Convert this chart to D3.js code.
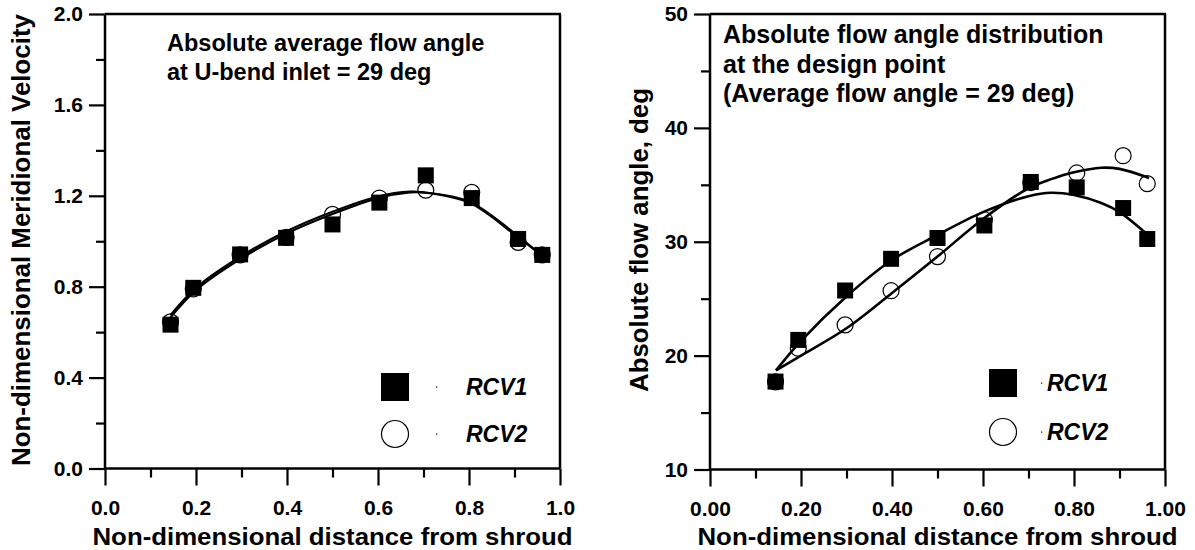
<!DOCTYPE html>
<html><head><meta charset="utf-8">
<script src="https://cdn.jsdelivr.net/npm/d3@7"></script>
<style>
body{margin:0;background:#fff;}
svg{display:block;font-family:"Liberation Sans",Arial,sans-serif;}
</style></head>
<body><svg id="c" width="1195" height="550"></svg>
<script>
// ---------- data ----------
const seriesNames = ["RCV1", "RCV2"];
const measX = [0.144, 0.194, 0.297, 0.398, 0.50, 0.603, 0.705, 0.806, 0.908, 0.961];
const velRCV1 = [0.633, 0.795, 0.942, 1.015, 1.074, 1.17, 1.29, 1.19, 1.01, 0.94];
const velRCV2 = [0.645, 0.79, 0.94, 1.017, 1.118, 1.19, 1.225, 1.215, 0.995, 0.94];
const angRCV1 = [17.72, 21.38, 25.72, 28.5, 30.33, 31.43, 35.25, 34.77, 32.96, 30.24];
const angRCV2 = [17.7, 20.65, 22.7, 25.7, 28.7, 31.93, 35.2, 36.04, 37.56, 35.1];
// fitted curves
const velFitX = [0.144, 0.2, 0.3, 0.4, 0.5, 0.6, 0.67, 0.7, 0.8, 0.9, 0.961];
const velFit1 = [0.665, 0.785, 0.925, 1.035, 1.12, 1.19, 1.215, 1.215, 1.175, 1.035, 0.935];
const velFit2 = [0.675, 0.795, 0.935, 1.045, 1.13, 1.197, 1.218, 1.215, 1.17, 1.03, 0.935];
const angFitX = [0.145, 0.2, 0.3, 0.4, 0.5, 0.6, 0.7, 0.75, 0.8, 0.86, 0.9, 0.965];
const angFit1 = [18.7, 21.3, 25.2, 28.4, 30.6, 32.6, 34.0, 34.3, 34.1, 33.4, 32.6, 30.5];
const angFit2 = [18.7, 20.0, 22.4, 25.5, 28.7, 32.0, 34.7, 35.5, 36.1, 36.5, 36.4, 35.6];
// ticks
const xMajor = [0, 0.2, 0.4, 0.6, 0.8, 1.0];
const xMinor = [0.1, 0.3, 0.5, 0.7, 0.9];
const velMajor = [0, 0.4, 0.8, 1.2, 1.6, 2.0];
const velMinor = [0.2, 0.6, 1.0, 1.4, 1.8];
const angMajor = [10, 20, 30, 40, 50];
const angMinor = [15, 25, 35, 45];
const xTitle = "Non-dimensional distance from shroud";
const velTitle = "Non-dimensional Meridional Velocity";
const angTitle = "Absolute flow angle, deg";
const velNote = ["Absolute average flow angle", "at U-bend inlet = 29 deg"];
const angNote = ["Absolute flow angle distribution", "at the design point", "(Average flow angle = 29 deg)"];

const svg = d3.select("#c");

function panel(o) {
  const g = svg.append("g");
  const x = d3.scaleLinear().domain([0, 1]).range([o.x0, o.x1]);
  const y = d3.scaleLinear().domain(o.yDomain).range([o.y0, o.y1]);

  // frame top/right
  g.append("line").attr("x1", o.x0).attr("x2", o.x1 + 1).attr("y1", o.y1).attr("y2", o.y1)
    .attr("stroke", "#000").attr("stroke-width", 2.5);
  g.append("line").attr("x1", o.x1).attr("x2", o.x1).attr("y1", o.y1).attr("y2", o.y0)
    .attr("stroke", "#000").attr("stroke-width", 2.5);

  // x axis
  const xa = g.append("g").attr("transform", `translate(0,${o.y0})`)
    .call(d3.axisBottom(x).tickValues(xMajor).tickSize(17).tickPadding(15).tickFormat(d3.format(o.xFmt)));
  g.append("g").attr("transform", `translate(0,${o.y0})`)
    .call(d3.axisBottom(x).tickValues(xMinor).tickSize(9).tickFormat("")).select(".domain").remove();
  // y axis
  const ya = g.append("g").attr("transform", `translate(${o.x0},0)`)
    .call(d3.axisLeft(y).tickValues(o.yMajor).tickSize(16).tickPadding(6).tickFormat(d3.format(o.yFmt)));
  g.append("g").attr("transform", `translate(${o.x0},0)`)
    .call(d3.axisLeft(y).tickValues(o.yMinor).tickSize(9).tickFormat("")).select(".domain").remove();

  g.selectAll(".domain").attr("stroke", "#000").attr("stroke-width", 2.5);
  xa.select(".domain").attr("d", `M${o.x0 - 1},0H${o.x1}`);
  ya.select(".domain").attr("d", `M0,${o.y0 + 1}V${o.y1}`);
  g.selectAll(".tick line").attr("stroke", "#000").attr("stroke-width", 2.2);
  g.selectAll(".tick text").attr("font-size", 21).attr("font-weight", "bold").attr("fill", "#000")
    .attr("font-family", "Liberation Sans, Arial, sans-serif");

  // axis titles
  g.append("text").attr("x", (o.x0 + o.x1) / 2).attr("y", 545).attr("text-anchor", "middle")
    .attr("font-size", 24).attr("font-weight", "bold").text(xTitle)
    .attr("textLength", 480).attr("lengthAdjust", "spacingAndGlyphs");
  g.append("text").attr("transform", `translate(${o.ytX},${o.ytY}) rotate(-90)`)
    .attr("text-anchor", "middle").attr("font-size", 25.8).attr("font-weight", "bold").text(o.yTitle)
    .attr("textLength", o.ytLen).attr("lengthAdjust", "spacingAndGlyphs");

  // notes
  o.note.forEach((t, i) => {
    g.append("text").attr("x", o.noteX).attr("y", o.noteY + i * o.noteDy)
      .attr("font-size", o.noteSize).attr("font-weight", "bold").text(t);
  });

  const line = d3.line().x(d => x(d[0])).y(d => y(d[1])).curve(d3.curveCatmullRom.alpha(0.5));

  // markers: circles under squares
  const pts2 = measX.map((v, i) => [v, o.s2[i]]);
  const pts1 = measX.map((v, i) => [v, o.s1[i]]);
  g.selectAll(".c2").data(pts2).join("circle").attr("cx", d => x(d[0])).attr("cy", d => y(d[1]))
    .attr("r", 8).attr("fill", "#fff").attr("stroke", "#000").attr("stroke-width", 1.2);
  g.selectAll(".s1").data(pts1).join("rect").attr("x", d => x(d[0]) - 8).attr("y", d => y(d[1]) - 8)
    .attr("width", 16).attr("height", 16).attr("fill", "#000");

  [o.f1, o.f2].forEach(f => {
    g.append("path").datum(o.fx.map((v, i) => [v, f[i]])).attr("d", line)
      .attr("fill", "none").attr("stroke", "#000").attr("stroke-width", o.fw);
  });

  // legend
  const L = o.leg;
  g.append("rect").attr("x", L.mx - 14).attr("y", L.y1 - 14).attr("width", 28).attr("height", 28).attr("fill", "#000");
  g.append("circle").attr("cx", L.mx).attr("cy", L.y2).attr("r", 13.5).attr("fill", "#fff").attr("stroke", "#000").attr("stroke-width", 1.2);
  [L.y1, L.y2].forEach((yy, i) => {
    g.append("rect").attr("x", L.dx).attr("y", yy - 0.5).attr("width", 1.2).attr("height", 1.2).attr("fill", "#000");
    g.append("text").attr("x", L.tx).attr("y", yy + 8).attr("font-size", 23).attr("font-weight", "bold")
      .attr("font-style", "italic").text(seriesNames[i]);
  });
}

panel({
  x0: 105, x1: 560, y0: 468.5, y1: 14, yDomain: [0, 2],
  yMajor: velMajor, yMinor: velMinor, xFmt: ".1f", yFmt: ".1f",
  yTitle: velTitle, ytX: 30, ytY: 240, ytLen: 452,
  note: velNote, noteX: 167, noteY: 51, noteDy: 29, noteSize: 23.5,
  s1: velRCV1, s2: velRCV2, fx: velFitX, f1: velFit1, f2: velFit2, fw: 2.2,
  leg: { mx: 395, y1: 387, y2: 434, dx: 436, tx: 466 }
});
panel({
  x0: 710, x1: 1165, y0: 469.5, y1: 14, yDomain: [10, 50],
  yMajor: angMajor, yMinor: angMinor, xFmt: ".2f", yFmt: "d",
  yTitle: angTitle, ytX: 648, ytY: 240, ytLen: 304,
  note: angNote, noteX: 723, noteY: 43, noteDy: 29.5, noteSize: 25,
  s1: angRCV1, s2: angRCV2, fx: angFitX, f1: angFit1, f2: angFit2, fw: 2.6,
  leg: { mx: 1003, y1: 383, y2: 432, dx: 1041, tx: 1047 }
});
</script></body></html>
